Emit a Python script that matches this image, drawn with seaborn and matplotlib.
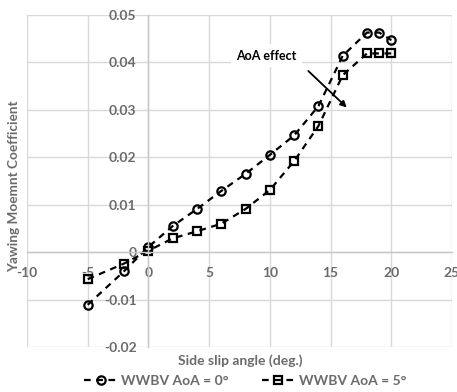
import matplotlib
matplotlib.use("Agg")
import matplotlib.pyplot as plt
import seaborn as sns
import pandas as pd

# ---- data ----
side_slip = [-5, -2, 0, 2, 4, 6, 8, 10, 12, 14, 16, 18, 19, 20]
cn_aoa0 = [-0.0111, -0.0040, 0.0011, 0.0055, 0.0091, 0.0129, 0.0165, 0.0205,
           0.0246, 0.0308, 0.0414, 0.0463, 0.0463, 0.0447]
cn_aoa5 = [-0.0057, -0.0024, 0.0003, 0.0029, 0.0044, 0.0060, 0.0091, 0.0131,
           0.0192, 0.0266, 0.0373, 0.0419, 0.0419, 0.0419]
series_names = ["WWBV AoA = 0°", "WWBV AoA = 5°"]
x_ticks = [-10, -5, 0, 5, 10, 15, 20, 25]
y_ticks = [-0.02, -0.01, 0, 0.01, 0.02, 0.03, 0.04, 0.05]
y_tick_labels = ["-0.02", "-0.01", "0", "0.01", "0.02", "0.03", "0.04", "0.05"]

df = pd.DataFrame({
    "x": side_slip * 2,
    "y": cn_aoa0 + cn_aoa5,
    "series": [series_names[0]] * len(side_slip) + [series_names[1]] * len(side_slip),
})

sns.set_theme(style="white")
plt.rcParams['font.family'] = ['Lato', 'DejaVu Sans']

fig = plt.figure(figsize=(4.57, 3.92), dpi=100)
ax = fig.add_axes([27/457, 1-347/392, (452-27)/457, (347-15)/392])

grey_txt = "#6b6b6b"
grid_c = "#d9d9d9"

sns.lineplot(data=df, x="x", y="y", hue="series", style="series",
             markers={series_names[0]: "o", series_names[1]: "s"},
             dashes={series_names[0]: (3, 2.5), series_names[1]: (3, 2.5)},
             palette={series_names[0]: "black", series_names[1]: "black"},
             linewidth=1.6, markersize=6, markerfacecolor="none",
             markeredgecolor="black", markeredgewidth=1.6,
             ax=ax, legend=True)

ax.set_xlim(-10, 25)
ax.set_ylim(-0.02, 0.05)
ax.set_xticks(x_ticks)
ax.set_xticklabels([str(t) for t in x_ticks])
ax.set_yticks(y_ticks)
ax.set_yticklabels(y_tick_labels)
ax.grid(True, color=grid_c, linewidth=1.0)
ax.set_axisbelow(True)

for s in ["top", "right"]:
    ax.spines[s].set_visible(False)
ax.spines["left"].set_position(("data", 0))
ax.spines["bottom"].set_position(("data", 0))
ax.spines["left"].set_color("#c8c8c8")
ax.spines["bottom"].set_color("#c8c8c8")
ax.spines["left"].set_linewidth(1.0)
ax.spines["bottom"].set_linewidth(1.0)

ax.tick_params(axis="x", length=0, pad=10.5, labelsize=10, labelcolor=grey_txt)
ax.tick_params(axis="y", length=0, pad=8.5, labelsize=10, labelcolor=grey_txt)
for lab in ax.get_xticklabels() + ax.get_yticklabels():
    lab.set_fontweight("bold")

ax.set_xlabel("")
ax.set_ylabel("")
fig.text(14/457, 1-186/392, "Yawing Moemnt Coefficient", rotation=90,
         ha="center", va="center", fontsize=9.8, fontweight="bold", color=grey_txt)
fig.text(240/457, 1-361/392, "Side slip angle (deg.)", ha="center", va="center",
         fontsize=10, fontweight="bold", color=grey_txt)

# annotation
ax.annotate("", xy=(16.5, 0.0301), xytext=(13.0, 0.0386),
            arrowprops=dict(arrowstyle="-|>", color="black", lw=1.3,
                            mutation_scale=9))
ax.text(9.7, 0.0414, "AoA effect", ha="center", va="center", fontsize=9,
        fontweight="bold", color="black",
        bbox=dict(facecolor="white", edgecolor="none", pad=4))

handles, labels = ax.get_legend_handles_labels()
ax.get_legend().remove()
leg = fig.legend(handles, labels, loc="center", bbox_to_anchor=(245/457, 1-381/392),
                 ncol=2, frameon=False, fontsize=10, handlelength=2.4,
                 handletextpad=0.25, columnspacing=2.4)
for t in leg.get_texts():
    t.set_color(grey_txt)
    t.set_fontweight("bold")

fig.savefig("out.png", dpi=100)
